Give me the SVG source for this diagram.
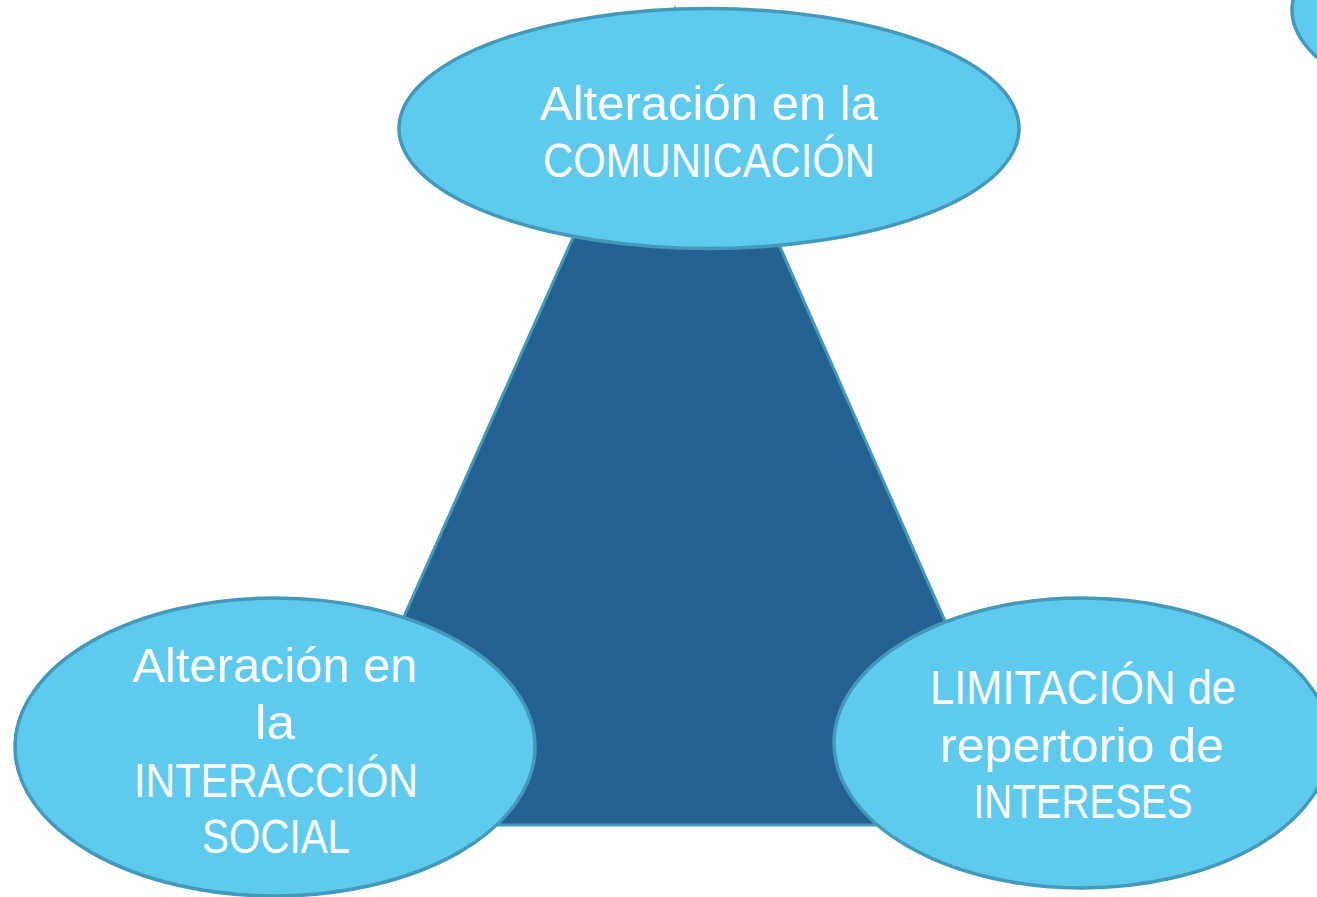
<svg xmlns="http://www.w3.org/2000/svg" width="1317" height="897" viewBox="0 0 1317 897">
<style>
.bub{fill:#5ecbee;stroke:#4399b9;stroke-width:3.5}
.tri{fill:#246192;stroke:#4399b9;stroke-width:3}
.t{fill:#ffffff;font-family:"Liberation Sans","DejaVu Sans",sans-serif;font-size:48px;text-anchor:middle}
</style>
<rect width="1317" height="897" fill="#ffffff"/>
<g id="connectors">
<polygon class="tri" points="675,9 311,825 1035,825"/>
</g>
<g id="node-corner">
<ellipse class="bub" cx="1602" cy="10" rx="310" ry="120"/>
</g>
<g id="node-comunicacion">
<ellipse class="bub" cx="709" cy="128.5" rx="310" ry="120"/>
<text class="t" x="709" y="120" textLength="338" lengthAdjust="spacingAndGlyphs">Alteración en la</text>
<text class="t" x="709" y="177" textLength="332" lengthAdjust="spacingAndGlyphs">COMUNICACIÓN</text>
</g>
<g id="node-interaccion">
<ellipse class="bub" cx="275" cy="747" rx="260" ry="149"/>
<text class="t" x="275" y="682" textLength="285" lengthAdjust="spacingAndGlyphs">Alteración en</text>
<text class="t" x="275" y="739" textLength="40" lengthAdjust="spacingAndGlyphs">la</text>
<text class="t" x="276" y="797" textLength="284" lengthAdjust="spacingAndGlyphs">INTERACCIÓN</text>
<text class="t" x="276" y="853" textLength="148" lengthAdjust="spacingAndGlyphs">SOCIAL</text>
</g>
<g id="node-intereses">
<ellipse class="bub" cx="1082" cy="743" rx="248" ry="145"/>
<text class="t" x="1083" y="704" textLength="306" lengthAdjust="spacingAndGlyphs">LIMITACIÓN de</text>
<text class="t" x="1082" y="762" textLength="284" lengthAdjust="spacingAndGlyphs">repertorio de</text>
<text class="t" x="1083" y="818" textLength="219" lengthAdjust="spacingAndGlyphs">INTERESES</text>
</g>
</svg>
